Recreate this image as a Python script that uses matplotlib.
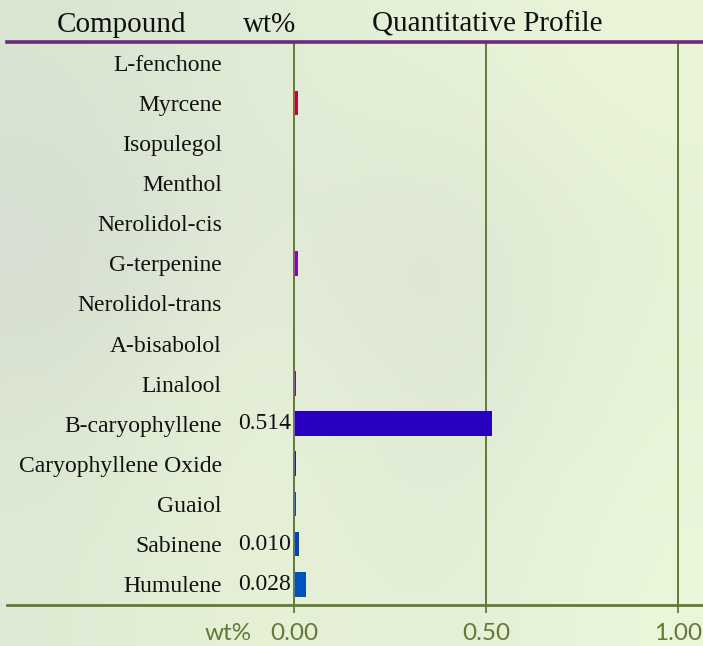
import numpy as np
import matplotlib
matplotlib.use("Agg")
import matplotlib.pyplot as plt
from matplotlib.lines import Line2D

compounds = ["L-fenchone", "Myrcene", "Isopulegol", "Menthol", "Nerolidol-cis",
             "G-terpenine", "Nerolidol-trans", "A-bisabolol", "Linalool",
             "B-caryophyllene", "Caryophyllene Oxide", "Guaiol", "Sabinene", "Humulene"]
wt = [0.0, 0.008, 0.0, 0.0, 0.0, 0.008, 0.0, 0.0, 0.003, 0.514, 0.003, 0.003, 0.010, 0.028]
wt_labels = ["", "", "", "", "", "", "", "", "", "0.514", "", "", "0.010", "0.028"]
bar_colors = ["#c8003c", "#c8003c", "#a000a0", "#9000b8", "#9000c0", "#8c00c8", "#7000c0",
              "#6000b8", "#6a10b8", "#2a00c0", "#2a10c0", "#1040e0", "#0044c4", "#0052c0"]
ticks = [0.0, 0.5, 1.0]
tick_labels = ["0.00", "0.50", "1.00"]

W, H = 703, 646
olive = "#627a34"
purple = "#6e2a7c"

fig = plt.figure(figsize=(W / 100, H / 100), dpi=100)

# soft green background
bg = fig.add_axes([0, 0, 1, 1], zorder=-10)
grid = np.array([
    [[0.85, 0.90, 0.82], [0.88, 0.93, 0.84], [0.90, 0.95, 0.84], [0.92, 0.96, 0.85]],
    [[0.83, 0.86, 0.82], [0.89, 0.93, 0.84], [0.85, 0.88, 0.82], [0.90, 0.95, 0.84]],
    [[0.86, 0.90, 0.82], [0.92, 0.96, 0.86], [0.86, 0.90, 0.83], [0.91, 0.96, 0.85]],
    [[0.87, 0.92, 0.83], [0.91, 0.95, 0.84], [0.88, 0.93, 0.84], [0.92, 0.97, 0.86]],
])
bg.imshow(grid, aspect="auto", interpolation="bicubic", extent=[0, 1, 0, 1])
bg.axis("off")

x0, x1 = 294, 703
y_top, y_bot = 42, 605
ax = fig.add_axes([x0 / W, 1 - y_bot / H, (x1 - x0) / W, (y_bot - y_top) / H])
ax.patch.set_alpha(0)

y = np.arange(len(compounds))
ax.barh(y, wt, height=0.62, color=bar_colors, left=0.002, linewidth=0, zorder=3)
ax.set_xlim(0, (x1 - x0) / 383.7)
ax.set_ylim(len(compounds) - 0.48, -0.52)

for s in ax.spines.values():
    s.set_visible(False)

for t in ticks:
    ax.axvline(t, color=olive, lw=1.4, zorder=2, clip_on=False)

ax.set_yticks(y)
ax.set_yticklabels(compounds, family="Liberation Serif", fontsize=17, color="#111111")
ax.tick_params(axis="y", length=0, pad=52)

ax.set_xticks(ticks)
ax.set_xticklabels(tick_labels, family="Lato", fontsize=17.5, color=olive)
ax.tick_params(axis="x", length=6, width=1.3, color=olive, pad=7)

for i, lab in enumerate(wt_labels):
    if lab:
        ax.annotate(lab, xy=(0, i), xytext=(-2, 0), textcoords="offset points",
                    ha="right", va="center", family="Liberation Serif",
                    fontsize=17, color="#111111")

# header and rules
fig.add_artist(Line2D([7 / W, 1], [1 - y_top / H] * 2, color=purple, lw=2.6))
fig.add_artist(Line2D([7 / W, 1], [1 - y_bot / H] * 2, color=olive, lw=2.0))
hy = 1 - 32 / H
for txt, cx in [("Compound", 122), ("wt%", 270), ("Quantitative Profile", 487)]:
    fig.text(cx / W, hy, txt, ha="center", va="baseline",
             family="Liberation Serif", fontsize=21, color="#111111")
fig.text(252 / W, 1 - 633 / H, "wt%", ha="right", va="center",
         family="Lato", fontsize=17.5, color=olive)

fig.savefig("out.png", dpi=100)
